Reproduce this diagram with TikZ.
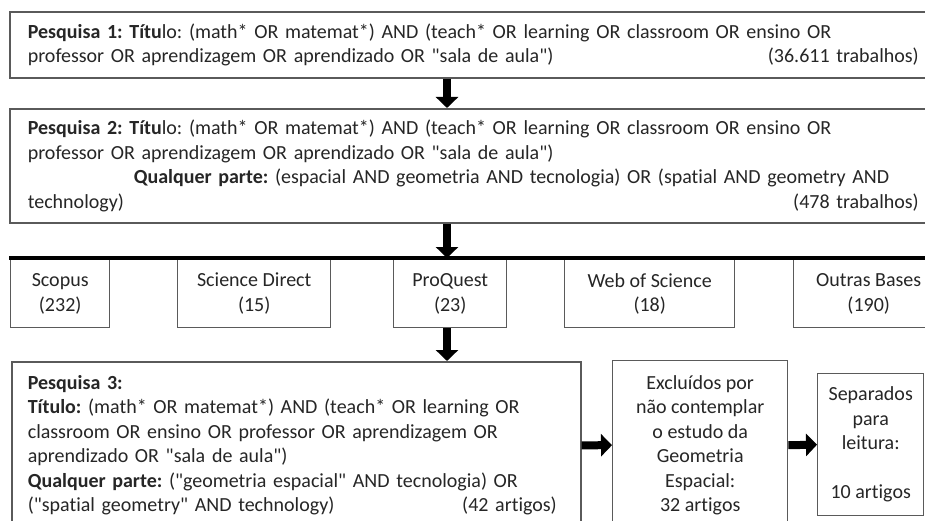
\documentclass[tikz,border=0pt]{standalone}
\usepackage{fontspec}
\setmainfont{Carlito}[Ligatures={TeXOff,NoCommon}]
\usetikzlibrary{positioning, arrows.meta}
\frenchspacing

\definecolor{ink}{HTML}{262626}
\definecolor{edge}{HTML}{5A5A5A}

\tikzset{
  searchbox/.style={draw=edge, line width=1.6pt, anchor=north west, inner xsep=18pt, inner ysep=0pt, align=left, text=ink},
  basebox/.style={draw=edge, line width=1.4pt, anchor=north west, minimum height=68pt, align=center, text=ink},
  resultbox/.style={draw=edge, line width=1.4pt, anchor=north west, align=center, text=ink, inner sep=0pt},
  bigarrow/.style={line width=8pt, -{Triangle[length=11pt,width=22pt]}},
  bar/.style={line width=3.5pt}
}

\begin{document}
\begin{tikzpicture}[x=1pt, y=-1pt, font=\fontsize{20}{24.5}\selectfont]
    \clip (0,0) rectangle (925,521);
    \fill[white] (0,0) rectangle (925,521);

    % Search 1 and 2
    \node[searchbox, text width=891pt, minimum height=66pt] (p1) at (9,11)
        {\textbf{Pesquisa 1: Títu}lo: (math* OR matemat*) AND (teach* OR learning OR classroom OR ensino OR\\
         professor OR aprendizagem OR aprendizado OR "sala de aula")\hfill(36.611 trabalhos)};
    \node[searchbox, text width=891pt, minimum height=114pt] (p2) at (9,108)
        {\textbf{Pesquisa 2: Títu}lo: (math* OR matemat*) AND (teach* OR learning OR classroom OR ensino OR\\
         professor OR aprendizagem OR aprendizado OR "sala de aula")\\
         \hspace*{106pt}\textbf{Qualquer parte:} (espacial AND geometria AND tecnologia) OR (spatial AND geometry AND\\
         technology)\hfill(478 trabalhos)};

    % databases
    \coordinate (mid) at (447,0);
    \coordinate (barL) at (9,258);
    \coordinate (barR) at (925,258);
    \node[basebox, minimum width=99pt] (scopus) at (10,259) {Scopus\\(232)};
    \node[basebox, minimum width=153pt] (scidir) at (177,259) {Science Direct\\(15)};
    \node[basebox, minimum width=113pt] (proquest) at (393,259) {ProQuest\\(23)};
    \node[basebox, minimum width=170pt] (wos) at (564,259) {Web of Science\\(18)};
    \node[basebox, minimum width=150pt] (outras) at (793,259) {Outras Bases\\(190)};

    % Search 3 and results
    \node[searchbox, inner xsep=16pt, text width=537pt, minimum height=167pt] (p3) at (11,361)
        {\textbf{Pesquisa 3:}\\
         \textbf{Título:} (math* OR matemat*) AND (teach* OR learning OR\\
         classroom OR ensino OR professor OR aprendizagem OR\\
         aprendizado OR "sala de aula")\\
         \textbf{Qualquer parte:} ("geometria espacial" AND tecnologia) OR\\
         ("spatial geometry" AND technology)\hfill(42 artigos)\hspace*{8pt}};
    \node[resultbox, minimum width=175pt, minimum height=169pt] (excl) at (612,360)
        {Excluídos por\\não contemplar\\o estudo da\\Geometria\\Espacial:\\32 artigos};
    \node[resultbox, minimum width=106pt, minimum height=142pt] (sep) at (817,373)
        {Separados\\para\\leitura:\\[24.5pt]10 artigos};

    % arrows
    \draw[bigarrow] (p1.south -| mid) -- (p2.north -| mid);
    \draw[bigarrow] (p2.south -| mid) -- (barL -| mid);
    \draw[bar] (barL) -- (barR);
    \draw[bigarrow] (proquest.south -| mid) -- (p3.north -| mid);
    \draw[bigarrow] (p3.east) -- (excl.west);
    \draw[bigarrow] (excl.east) -- (sep.west);

\end{tikzpicture}
\end{document}
